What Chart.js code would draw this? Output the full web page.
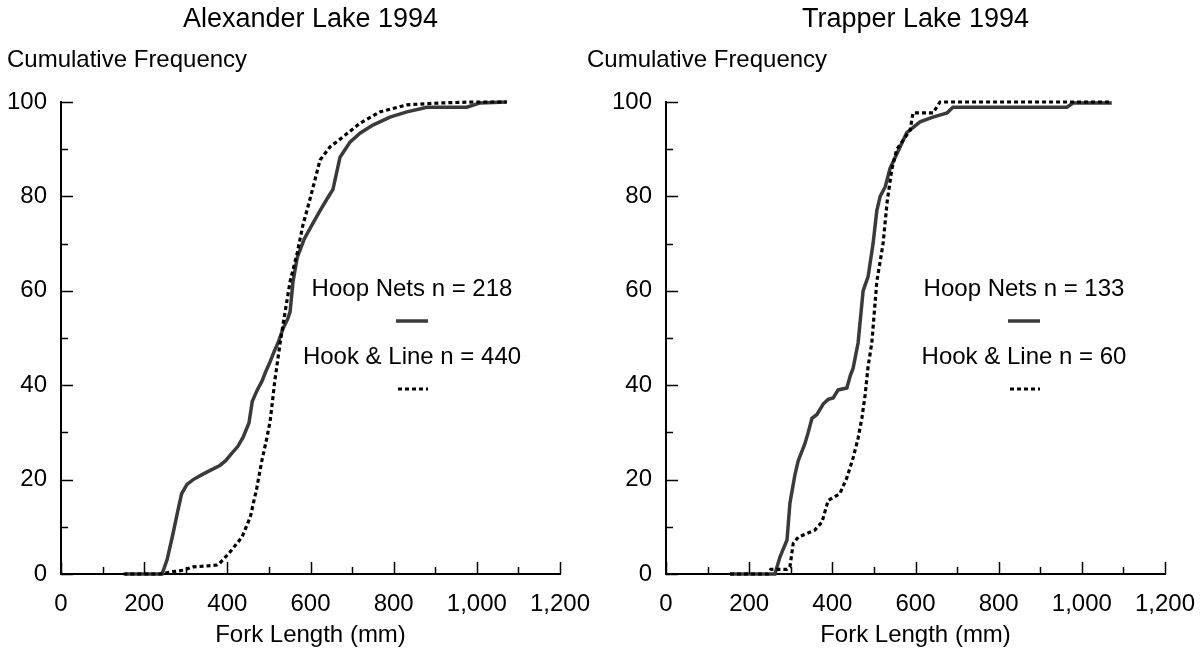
<!DOCTYPE html>
<html>
<head>
<meta charset="utf-8">
<title>Cumulative frequency of fork length, 1994</title>
<script src="https://cdn.jsdelivr.net/npm/chart.js@4.4.1/dist/chart.umd.min.js"></script>
<style>
  html, body { margin:0; padding:0; background:#fff; }
  #wrap { position:relative; width:1203px; height:653px; overflow:hidden; }
  canvas { position:absolute; top:0; }
  #alex { left:0; }
  #trap { left:580px; }
</style>
</head>
<body>
<div id="wrap">
  <canvas id="alex" width="600" height="653"></canvas>
  <canvas id="trap" width="623" height="653"></canvas>
</div>
<script>
// Cumulative length-frequency, hoop nets vs hook & line

const FONT = '"Liberation Sans", Arial, sans-serif';
const xTicks = [0, 200, 400, 600, 800, 1000, 1200];
const yTicks = [0, 20, 40, 60, 80, 100];

// Alexander Lake 1994
const alexTitle = 'Alexander Lake 1994';
const alexHoopLabel = 'Hoop Nets n = 218';
const alexHookLabel = 'Hook & Line n = 440';
const alexHoopMm  = [154,243,255,268,280,290,303,318,338,360,382,396,410,425,438,452,460,472,483,493,503,512,522,534,545,551,558,568,585,604,623,640,654,671,695,719,750,791,832,880,976,1008,1072];
const alexHoopPct = [0,0,3,8,13,17,19,20,21,22,23,24,25.5,27,29,32,36.6,39,40.8,43,45,47,49,52,54,55.6,62,67,71,74,77,79.5,81.5,88.3,91.5,93.4,95.1,96.8,97.9,98.9,98.9,99.8,100];
const alexHookMm  = [150,238,270,294,318,350,375,382,406,435,455,471,483,495,503,514,527,539,551,568,582,599,623,647,678,719,767,832,911,991,1072];
const alexHookPct = [0,0,0.5,0.8,1.5,1.7,1.9,2.3,4.6,7.8,12,18.3,24,28.8,32.4,40.8,49,55.6,62,68,74,79.5,87.7,90.5,92.6,95.5,97.9,99.4,99.8,100,100];

// Trapper Lake 1994
const trapTitle = 'Trapper Lake 1994';
const trapHoopLabel = 'Hoop Nets n = 133';
const trapHookLabel = 'Hook & Line n = 60';
const trapHoopMm  = [154,262,274,291,298,310,318,334,342,351,363,378,390,402,414,435,443,450,462,474,486,498,507,515,527,539,555,579,611,642,676,690,964,979,1072];
const trapHoopPct = [0,0,3.6,7.2,15,21,24,27.6,30,33,33.8,36,37,37.3,39,39.4,42,43.6,49,60,63,70,77,80,82,86,89,93.5,95.8,96.8,97.7,98.9,98.9,99.8,99.8];
const trapHookMm  = [154,245,252,262,290,298,306,318,339,358,375,390,418,435,450,462,471,479,486,495,507,522,532,543,555,563,587,594,642,659,1072];
const trapHookPct = [0,0,1,1,1,1.5,6.5,7.8,8.6,9.3,11,15.6,17,20.4,24.6,28.8,33,38,44,49,62,70,79,85.7,90,91,94,97.7,97.7,100,100];

const yHeader = 'Cumulative Frequency';
const xHeader = 'Fork Length (mm)';

const pts = (xs, ys) => xs.map((x, i) => ({ x, y: ys[i] }));

// inward tick marks, titles and the in-plot legend
const decor = {
  id: 'decor',
  afterDraw(chart){
    const { ctx, chartArea: a, scales: { x, y } } = chart;
    const o = chart.options.plugins.decor;
    ctx.save();
    ctx.strokeStyle = '#000';
    ctx.lineWidth = 1.5;
    ctx.beginPath();
    for (let v = 0; v <= 1200; v += 100){
      const px = Math.round(x.getPixelForValue(v)) + 0.5;
      const len = v % 200 === 0 ? 12 : 7;
      ctx.moveTo(px, a.bottom); ctx.lineTo(px, a.bottom - len);
    }
    for (let v = 0; v <= 100; v += 10){
      const py = Math.round(y.getPixelForValue(v)) + 0.5;
      const len = v % 20 === 0 ? 12 : 7;
      ctx.moveTo(a.left, py); ctx.lineTo(a.left + len, py);
    }
    ctx.stroke();

    ctx.fillStyle = '#000';
    ctx.textBaseline = 'middle';
    ctx.font = '27px ' + FONT;
    ctx.textAlign = 'center';
    ctx.fillText(o.title, (a.left + a.right) / 2, 20);
    ctx.font = '24px ' + FONT;
    ctx.textAlign = 'left';
    ctx.fillText(yHeader, o.headerX, 60);

    // legend
    const lx = a.left + o.legendX;
    ctx.textAlign = 'center';
    ctx.fillText(o.hoopLabel, lx, 289);
    ctx.fillText(o.hookLabel, lx, 357);
    const hoop = chart.data.datasets[1], hook = chart.data.datasets[0];
    ctx.lineCap = 'butt';
    ctx.strokeStyle = hoop.borderColor; ctx.lineWidth = hoop.borderWidth;
    ctx.beginPath(); ctx.moveTo(lx - 16, 321); ctx.lineTo(lx + 16, 321); ctx.stroke();
    ctx.strokeStyle = hook.borderColor; ctx.lineWidth = hook.borderWidth;
    ctx.setLineDash(hook.borderDash);
    ctx.beginPath(); ctx.moveTo(lx - 14, 389); ctx.lineTo(lx + 16, 389); ctx.stroke();
    ctx.restore();
  }
};

function makeChart(id, cfg){
  const tickFont = { family: FONT, size: 24 };
  return new Chart(document.getElementById(id), {
    type: 'line',
    data: { datasets: [
      { label: 'Hook & Line', data: pts(cfg.hookMm, cfg.hookPct), borderColor: '#000', borderWidth: 3.2,
        borderDash: [4, 3], pointRadius: 0, tension: 0, clip: false },
      { label: 'Hoop Nets', data: pts(cfg.hoopMm, cfg.hoopPct), borderColor: '#3a3a3a', borderWidth: 3.5,
        pointRadius: 0, tension: 0, clip: false }
    ]},
    options: {
      responsive: false, animation: false, events: [],
      layout: { padding: { top: 102, right: cfg.padRight, bottom: 0, left: 0 } },
      plugins: {
        legend: { display: false }, tooltip: { enabled: false },
        decor: { title: cfg.title, hoopLabel: cfg.hoopLabel, hookLabel: cfg.hookLabel,
                 legendX: cfg.legendX, headerX: cfg.headerX }
      },
      scales: {
        x: {
          type: 'linear', min: 0, max: 1200,
          afterBuildTicks: s => { s.ticks = xTicks.map(value => ({ value })); },
          grid: { display: false, drawTicks: false },
          border: { display: true, color: '#000', width: 2 },
          ticks: { padding: 16, color: '#000', font: tickFont, maxRotation: 0,
                   callback: v => v.toLocaleString('en-US') },
          title: { display: true, text: xHeader, color: '#000', font: tickFont, padding: { top: 0, bottom: 3 } },
          afterFit: s => { s.height = 79; s.paddingLeft = 0; s.paddingRight = 0; }
        },
        y: {
          min: 0, max: 100,
          afterBuildTicks: s => { s.ticks = yTicks.map(value => ({ value })); },
          grid: { display: false, drawTicks: false },
          border: { display: true, color: '#000', width: 2 },
          ticks: { padding: 14, color: '#000', font: tickFont },
          afterFit: s => { s.width = cfg.yWidth; s.paddingTop = 0; s.paddingBottom = 0; }
        }
      }
    },
    plugins: [decor]
  });
}

makeChart('alex', {
  title: alexTitle, hoopLabel: alexHoopLabel, hookLabel: alexHookLabel,
  hoopMm: alexHoopMm, hoopPct: alexHoopPct, hookMm: alexHookMm, hookPct: alexHookPct,
  yWidth: 61, padRight: 40, legendX: 351, headerX: 7
});
makeChart('trap', {
  title: trapTitle, hoopLabel: trapHoopLabel, hookLabel: trapHookLabel,
  hoopMm: trapHoopMm, hoopPct: trapHoopPct, hookMm: trapHookMm, hookPct: trapHookPct,
  yWidth: 86, padRight: 38, legendX: 358, headerX: 7
});
</script>
</body>
</html>
